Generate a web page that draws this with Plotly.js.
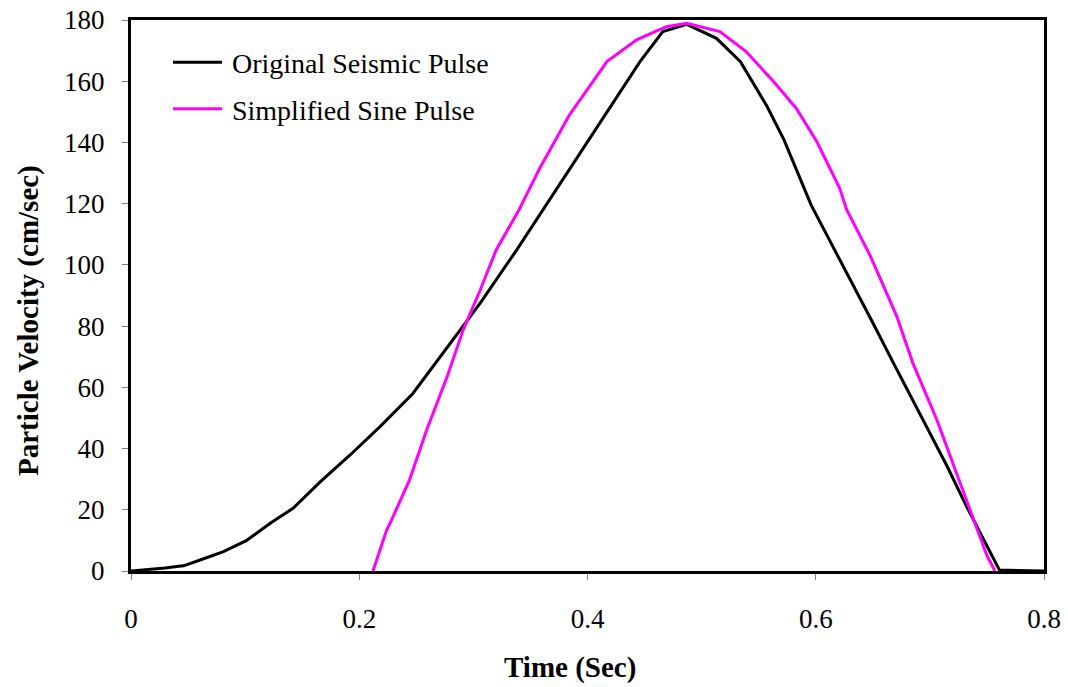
<!DOCTYPE html>
<html>
<head>
<meta charset="utf-8">
<script src="https://cdn.plot.ly/plotly-3.0.1.min.js"></script>
<style>html,body{margin:0;padding:0;background:#fff;}#chart{width:1068px;height:687px;}</style>
</head>
<body>
<div id="chart"></div>
<script>
// Original seismic pulse (time in sec, velocity in cm/sec)
const origTime = [0, 0.01, 0.02, 0.03, 0.04, 0.046, 0.06, 0.081, 0.101, 0.122, 0.142, 0.166, 0.192, 0.218, 0.247, 0.282, 0.306, 0.338, 0.358, 0.388, 0.417, 0.446, 0.466, 0.487, 0.513, 0.534, 0.557, 0.572, 0.596, 0.615, 0.636, 0.650, 0.668, 0.683, 0.697, 0.715, 0.732, 0.750, 0.761, 0.8];
const origVel  = [0, 0.3, 0.8, 1.0, 1.5, 1.7, 3.5, 6.3, 9.9, 15.6, 20.5, 29.2, 37.9, 47.1, 58.0, 75.5, 87.5, 104.9, 116.3, 133.7, 150.1, 166.4, 176.2, 178.6, 174.0, 166.4, 152.0, 141.0, 119.5, 106.1, 90.9, 81.1, 68.0, 57.1, 47.3, 34.3, 21.2, 8.2, 0.3, 0];

// Simplified sine pulse
const sineTime = [0.212, 0.224, 0.227, 0.244, 0.259, 0.277, 0.291, 0.306, 0.320, 0.340, 0.358, 0.384, 0.417, 0.443, 0.469, 0.487, 0.516, 0.539, 0.563, 0.583, 0.601, 0.621, 0.627, 0.648, 0.671, 0.685, 0.706, 0.721, 0.738, 0.750, 0.757];
const sineVel  = [0, 13.4, 15.6, 29.7, 46.0, 63.5, 78.7, 91.8, 104.9, 118.0, 131.5, 148.9, 166.4, 173.5, 177.8, 178.9, 176.2, 169.7, 159.9, 151.1, 140.2, 125.0, 118.1, 102.8, 83.2, 68.0, 49.5, 34.3, 16.9, 5.0, 0];

const seriesNames = ["Original Seismic Pulse", "Simplified Sine Pulse"];
const xTitle = "Time (Sec)";
const yTitle = "Particle Velocity (cm/sec)";

const font = "Liberation Serif, Times New Roman, serif";

const traces = [
  {x: origTime, y: origVel, name: seriesNames[0], mode: "lines", legendgroup: "a",
   line: {color: "#000000", width: 3}},
  {x: sineTime, y: sineVel, name: seriesNames[1], mode: "lines", legendgroup: "b",
   line: {color: "#ff00ff", width: 3}}
];

const layout = {
  width: 1068, height: 687,
  margin: {l: 131, r: 24, t: 20, b: 116, pad: 0},
  paper_bgcolor: "#ffffff", plot_bgcolor: "#ffffff",
  font: {family: font, size: 26, color: "#000000"},
  showlegend: true,
  legend: {x: 0.0405, y: 0.968, xanchor: "left", yanchor: "top", bgcolor: "rgba(0,0,0,0)",
           itemwidth: 54,
           font: {family: font, size: 28, color: "#000"}, traceorder: "grouped", tracegroupgap: 7},
  xaxis: {
    range: [0, 0.8], tickvals: [0, 0.2, 0.4, 0.6, 0.8], ticktext: ["0", "0.2", "0.4", "0.6", "0.8"],
    showgrid: false, zeroline: false, ticks: "outside", ticklen: 6, tickcolor: "#808080", tickwidth: 1,
    showline: true, linecolor: "#000", linewidth: 3, mirror: true,
    ticklabelstandoff: 16,
    tickfont: {family: font, size: 27}
  },
  yaxis: {
    range: [0, 180], tickvals: [0, 20, 40, 60, 80, 100, 120, 140, 160, 180],
    showgrid: false, zeroline: false, ticks: "outside", ticklen: 6, tickcolor: "#808080", tickwidth: 1,
    showline: true, linecolor: "#000", linewidth: 3, mirror: true,
    ticklabelstandoff: 12,
    tickfont: {family: font, size: 27}
  },
  annotations: [
    {text: "<b>" + xTitle + "</b>", xref: "paper", yref: "paper", x: 0.4808, y: -0.176,
     xanchor: "center", yanchor: "middle", showarrow: false, font: {family: font, size: 29}},
    {text: "<b>" + yTitle + "</b>", xref: "paper", yref: "paper", x: -0.1128, y: 0.4537,
     xanchor: "center", yanchor: "middle", textangle: -90, showarrow: false, font: {family: font, size: 29}}
  ]
};

function stretchLegendLines() {
  document.querySelectorAll("#chart .legend path").forEach(function (p) {
    var d = p.getAttribute("d") || "";
    if (/^M5,0h30/.test(d) || p.classList.contains("js-line")) {
      p.setAttribute("d", "M5,0h49");
    }
  });
}

var gd = document.getElementById("chart");
Plotly.newPlot(gd, traces, layout, {displayModeBar: false, staticPlot: true});
stretchLegendLines();
gd.on("plotly_afterplot", stretchLegendLines);
setTimeout(stretchLegendLines, 30);
setTimeout(stretchLegendLines, 200);
</script>
</body>
</html>
